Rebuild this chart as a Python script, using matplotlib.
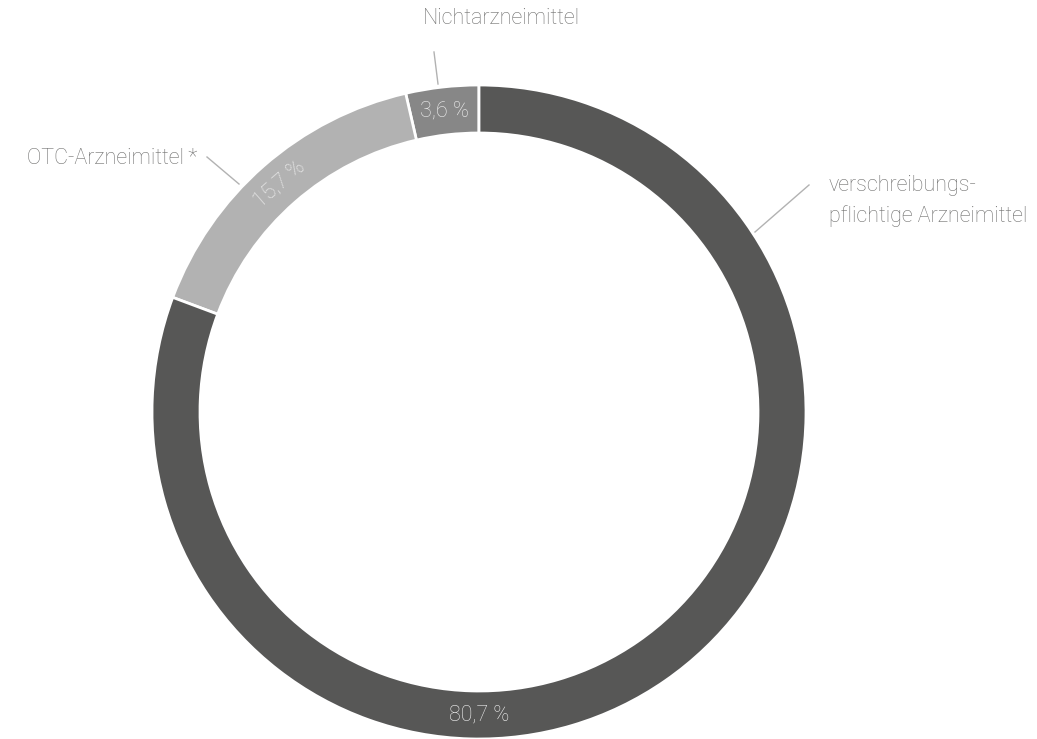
import math
import matplotlib
matplotlib.use("Agg")
import matplotlib.pyplot as plt

labels = ["Nichtarzneimittel", "OTC-Arzneimittel\u2009*", "verschreibungs-\npflichtige Arzneimittel"]
values = [3.6, 15.7, 80.7]
pct_text = ["3,6 %", "15,7 %", "80,7 %"]
colors = ["#878787", "#b2b2b2", "#575756"]

plt.rcParams['font.family'] = ['Roboto', 'DejaVu Sans']
FW = 'light'
FS = 15.5

W, H = 1037, 739
fig = plt.figure(figsize=(W / 100, H / 100), dpi=100)
ax = fig.add_axes([0, 0, 1, 1])

cx, cy = 479, H - 412
R = 327
width = 48

wedges, _ = ax.pie(values, colors=colors, startangle=90, counterclock=True,
                   center=(cx, cy), radius=R, frame=True,
                   wedgeprops=dict(width=width, edgecolor='white', linewidth=2))
ax.set_xlim(0, W)
ax.set_ylim(0, H)
ax.set_aspect('equal')
ax.axis('off')

rm = R - width / 2
for i, w in enumerate(wedges):
    ang = (w.theta1 + w.theta2) / 2
    rot = 0
    if i == 1:
        rot = ang - 90
    if i == 2:
        ang = 270
    x = cx + rm * math.cos(math.radians(ang))
    y = cy + rm * math.sin(math.radians(ang))
    ax.text(x, y, pct_text[i], color='#f0f0f0', fontsize=FS, fontweight=FW,
            ha='center', va='center', rotation=rot, rotation_mode='anchor')

# outer labels with leader lines
lc = '#b2b2b2'
tc = '#6f6f6e'
ax.plot([438, 434], [H - 84, H - 52], color=lc, lw=1)
ax.text(501, H - 18, labels[0], color=tc, fontsize=FS, fontweight=FW, ha='center', va='center')

ax.plot([239, 207], [H - 184, H - 157], color=lc, lw=1)
ax.text(197, H - 158, labels[1], color=tc, fontsize=FS, fontweight=FW, ha='right', va='center')

ax.plot([755, 809], [H - 232, H - 185], color=lc, lw=1)
ax.text(829, H - 201, labels[2], color=tc, fontsize=FS, fontweight=FW, ha='left', va='center',
        linespacing=1.6)

fig.savefig("out.png", dpi=100, facecolor='white')
